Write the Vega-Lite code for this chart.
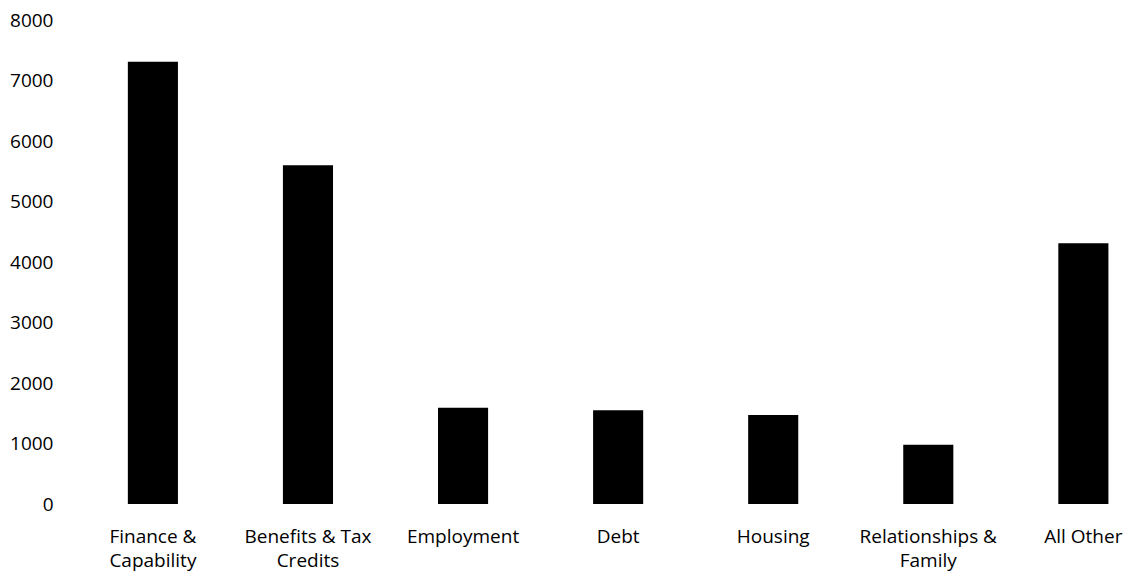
{
  "$schema": "https://vega.github.io/schema/vega-lite/v6.json",
  "autosize": "none",
  "padding": {"left": 75, "top": 20, "right": 0, "bottom": 67},
  "width": 1055,
  "height": 484,
  "background": "white",
  "data": {"values": [
    {"category": "Finance & Capability", "value": 7310},
    {"category": "Benefits & Tax Credits", "value": 5600},
    {"category": "Employment", "value": 1590},
    {"category": "Debt", "value": 1550},
    {"category": "Housing", "value": 1470},
    {"category": "Relationships & Family", "value": 980},
    {"category": "All Other", "value": 4310}
  ]},
  "mark": {"type": "bar", "color": "black"},
  "encoding": {
    "x": {
      "field": "category", "type": "nominal", "sort": null,
      "scale": {"paddingInner": 0.677, "paddingOuter": 0.24, "align": 0.71},
      "axis": {
        "title": null, "labelAngle": 0, "domain": false, "ticks": false,
        "labelFont": "Open Sans", "labelFontSize": 19, "labelColor": "black",
        "labelPadding": 23, "labelLineHeight": 24,
        "labelExpr": "datum.value == 'Finance & Capability' ? ['Finance &', 'Capability'] : datum.value == 'Benefits & Tax Credits' ? ['Benefits & Tax', 'Credits'] : datum.value == 'Relationships & Family' ? ['Relationships &', 'Family'] : datum.value"
      }
    },
    "y": {
      "field": "value", "type": "quantitative",
      "scale": {"domain": [0, 8000], "nice": false},
      "axis": {
        "title": null, "domain": false, "ticks": false, "grid": false,
        "values": [0, 1000, 2000, 3000, 4000, 5000, 6000, 7000, 8000],
        "labelFont": "Open Sans", "labelFontSize": 19, "labelColor": "black",
        "labelPadding": 22, "format": "d"
      }
    }
  },
  "config": {"view": {"stroke": null}}
}
